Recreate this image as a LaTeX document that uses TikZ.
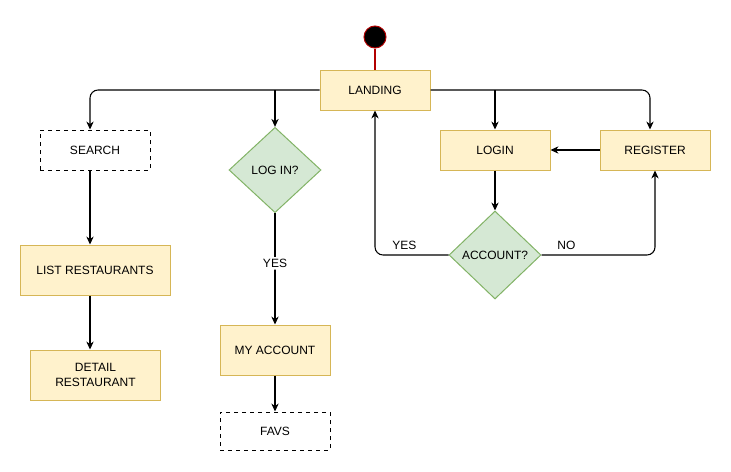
\documentclass[tikz,border=0pt]{standalone}
\usepackage{fontspec}
\setmainfont{Liberation Sans}
\usepackage{tikz}
\usepackage{xcolor}
\usetikzlibrary{arrows.meta,shapes.geometric,calc}
\definecolor{boxfill}{HTML}{FFF2CC}
\definecolor{boxline}{HTML}{D6B656}
\definecolor{decfill}{HTML}{D5E8D4}
\definecolor{decline}{HTML}{82B366}
\definecolor{startline}{HTML}{B20000}
\tikzset{%
  tipA/.tip={Stealth[length=6pt,width=5.5pt]},
  statebox/.style={draw=boxline, fill=boxfill, line width=0.75pt, minimum width=82.5pt, minimum height=30pt, align=center, inner sep=0pt},
  pagebox/.style={draw=black, dashed, line width=0.75pt, minimum width=82.5pt, minimum height=30pt, inner sep=0pt},
  decision/.style={diamond, draw=decline, fill=decfill, line width=0.75pt, minimum width=69pt, minimum height=64pt, inner sep=0pt},
  edge/.style={draw=black, line width=0.8pt, -tipA, rounded corners=6pt},
  lbl/.style={fill=white, inner sep=1.5pt}
}

\begin{document}
\begin{tikzpicture}[x=0.75pt,y=-0.75pt,font=\fontsize{9pt}{10.8pt}\selectfont]
\fill[white] (0,0) rectangle (731,471);
\useasboundingbox (0,0) rectangle (731,471);
% nodes
\node[circle, fill=black, draw=startline, line width=0.75pt, minimum size=16.5pt, inner sep=0pt] (start) at (375,37) {};
\node[statebox] (landing) at (375,90) {LANDING};
\node[pagebox] (search) at (95,150) {SEARCH};
\node[decision] (logq) at (275,170) {LOG IN?};
\node[statebox] (login) at (495,150) {LOGIN};
\node[statebox] (register) at (655,150) {REGISTER};
\node[decision, minimum height=66pt] (accq) at (495,255) {ACCOUNT?};
\node[statebox, minimum width=112.5pt, minimum height=37.5pt] (list) at (95,270) {LIST RESTAURANTS};
\node[statebox, minimum width=97.5pt, minimum height=37.5pt] (detail) at (95.5,375) {DETAIL\\RESTAURANT};
\node[statebox, minimum height=37.5pt] (myacc) at (275,350) {MY ACCOUNT};
\node[pagebox, minimum height=28.5pt] (favs) at (275,431) {FAVS};
% connectors
\draw[draw=startline, line width=0.8pt] (start) -- (landing.north);
\draw[edge] (landing.west) -| ($(search.north)+(-5,0)$);
\draw[edge] (landing.west -| logq.north) -- (logq.north);
\draw[edge] (landing.east) -| ($(register.north)+(-5,0)$);
\draw[edge] (landing.east -| login.north) -- (login.north);
\draw[edge] ($(search.south)+(-5,0)$) -- ($(list.north)+(-5,0)$);
\draw[edge] ($(list.south)+(-5,0)$) -- ($(detail.north)+(-5.5,0)$);
\draw[edge] (logq.south) -- node[lbl, pos=0.45] {YES} (myacc.north);
\draw[edge] (myacc.south) -- (favs.north);
\draw[edge] (register.west) -- (login.east);
\draw[edge] (login.south) -- (accq.north);
\draw[edge] (accq.west) -| node[above, pos=0.3] {YES} (landing.south);
\draw[edge] (accq.east) -| node[above, pos=0.11] {NO} (register.south);
\end{tikzpicture}
\end{document}
